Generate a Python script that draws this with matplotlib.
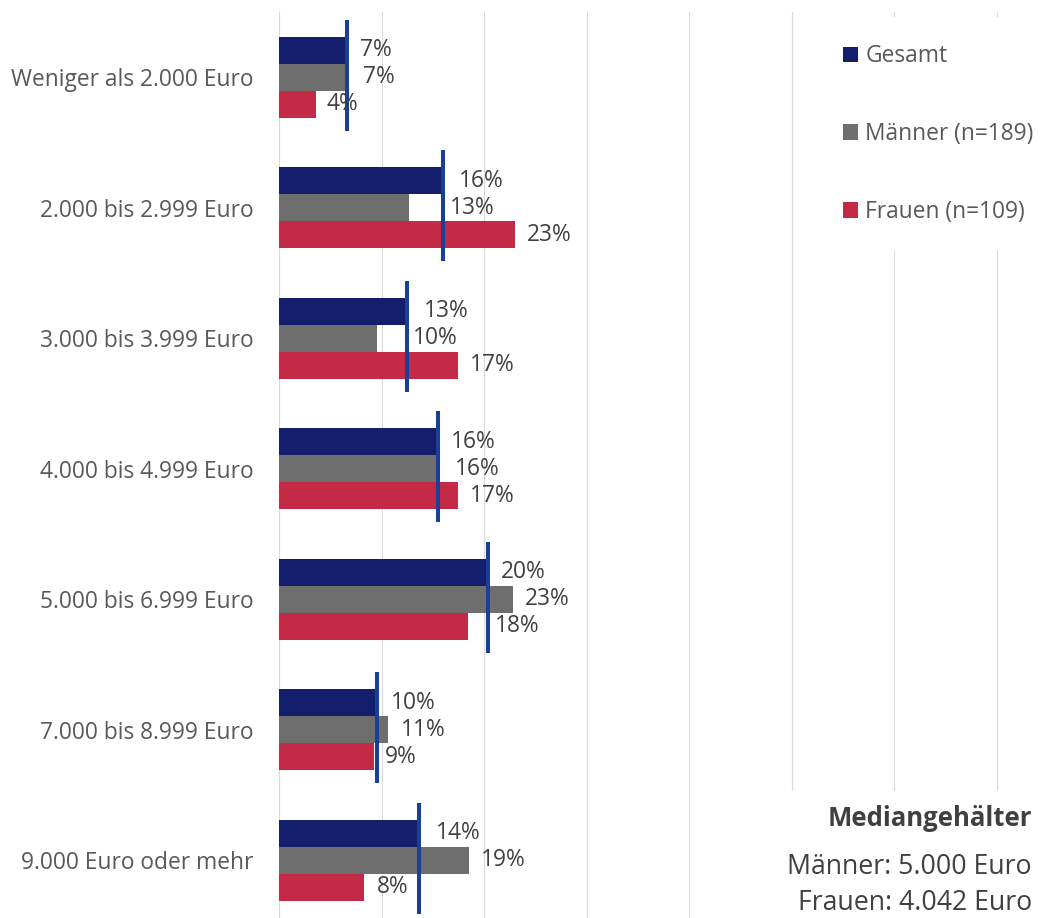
import math
import matplotlib
matplotlib.use("Agg")
import matplotlib.pyplot as plt
from matplotlib.patches import Patch, Rectangle

# ---------------- data ----------------
categories = [
    "Weniger als 2.000 Euro",
    "2.000 bis 2.999 Euro",
    "3.000 bis 3.999 Euro",
    "4.000 bis 4.999 Euro",
    "5.000 bis 6.999 Euro",
    "7.000 bis 8.999 Euro",
    "9.000 Euro oder mehr",
]
gesamt = [6.6, 16.0, 12.5, 15.5, 20.4, 9.5, 13.6]
maenner = [6.6, 12.7, 9.5, 15.5, 22.8, 10.6, 18.5]
frauen = [3.6, 23.0, 17.4, 17.4, 18.4, 9.2, 8.3]
series_names = ["Gesamt", "Männer (n=189)", "Frauen (n=109)"]
median_title = "Mediangehälter"
median_lines = ["Männer: 5.000 Euro", "Frauen: 4.042 Euro"]
grid_ticks = [0, 10, 20, 30, 40, 50, 60, 70]

# ---------------- style ----------------
FONT = "Open Sans"
plt.rcParams["font.family"] = [FONT, "DejaVu Sans"]
colors = ["#131e6c", "#6e6e6e", "#c42a46"]
line_color = "#1a3f96"
label_color = "#404040"
tick_color = "#595959"
FS = 16.4
FS_MED = 19.2
FS_MED_TITLE = 18.5

W_PX, H_PX = 1058, 918
fig = plt.figure(figsize=(W_PX / 100, H_PX / 100), dpi=100)

x0_px = 279.3
px_per_unit = 10.25
top_px = 11.75
step_px = 130.5
n = len(categories)
ax_h_px = n * step_px
ax = fig.add_axes([x0_px / W_PX, (H_PX - top_px - ax_h_px) / H_PX,
                   (W_PX - x0_px) / W_PX, ax_h_px / H_PX])
ax.set_xlim(0, (W_PX - x0_px) / px_per_unit)
ax.set_ylim(n - 0.5, -0.5)

bh = 27 / step_px
ys = list(range(n))
all_series = [gesamt, maenner, frauen]
for k, (vals, c) in enumerate(zip(all_series, colors)):
    ax.barh([y + (k - 1) * bh for y in ys], vals, height=bh, color=c,
            zorder=2, label=series_names[k])

# marker line at Gesamt value
ax.vlines(gesamt, [y - 0.44 for y in ys], [y + 0.41 for y in ys],
          color=line_color, linewidth=2.9, zorder=4)

# data labels
default_off = 12
label_off = {(0, 0): 13, (0, 1): 16, (0, 2): 10,
             (1, 0): 16, (1, 1): 40, (1, 2): 12,
             (2, 0): 16, (2, 1): 36, (2, 2): 12,
             (3, 0): 13, (3, 1): 17, (3, 2): 12,
             (4, 0): 12, (4, 1): 12, (4, 2): 27,
             (5, 0): 14, (5, 1): 13, (5, 2): 11,
             (6, 0): 17, (6, 1): 12, (6, 2): 12}
for k, vals in enumerate(all_series):
    for i, v in enumerate(vals):
        ax.annotate(f"{math.floor(v + 0.5)}%", xy=(v, i + (k - 1) * bh),
                    xytext=(label_off.get((i, k), default_off), 0),
                    textcoords="offset pixels", ha="left", va="center",
                    fontsize=FS, color=label_color, zorder=5)

# axes styling
ax.set_xticks(grid_ticks)
ax.set_xticklabels([])
ax.tick_params(axis="x", length=0)
ax.set_yticks(ys)
ax.set_yticklabels(categories, fontsize=FS, color=tick_color)
ax.tick_params(axis="y", length=0, pad=18.5)
ax.grid(axis="x", color="#d9d9d9", linewidth=0.8)
ax.set_axisbelow(True)
for s in ax.spines.values():
    s.set_visible(False)

# legend
handles = [Patch(facecolor=c, edgecolor="none") for c in colors]
leg = ax.legend(handles, series_names, loc="upper left",
                bbox_to_anchor=(816 / W_PX, 1 - 17 / H_PX),
                bbox_transform=fig.transFigure, fontsize=FS,
                frameon=True, facecolor="white", edgecolor="none",
                framealpha=1, fancybox=False, handlelength=0.66,
                handleheight=0.66, handletextpad=0.3, labelspacing=2.36,
                borderpad=1.2, borderaxespad=0)
for t in leg.get_texts():
    t.set_color(tick_color)

# median box
ax.add_patch(Rectangle((760 / W_PX, 0), (W_PX - 760) / W_PX,
                       (H_PX - 791) / H_PX, transform=fig.transFigure,
                       facecolor="white", edgecolor="none", zorder=1))
fig.text(1032 / W_PX, 1 - 818 / H_PX, median_title, ha="right",
         va="center", fontsize=FS_MED_TITLE, fontweight="bold",
         color=label_color)
for j, line in enumerate(median_lines):
    fig.text(1032 / W_PX, 1 - (867 + 36 * j) / H_PX, line, ha="right",
             va="center", fontsize=FS_MED, color=label_color)

fig.savefig("out.png", dpi=100, facecolor="white")
